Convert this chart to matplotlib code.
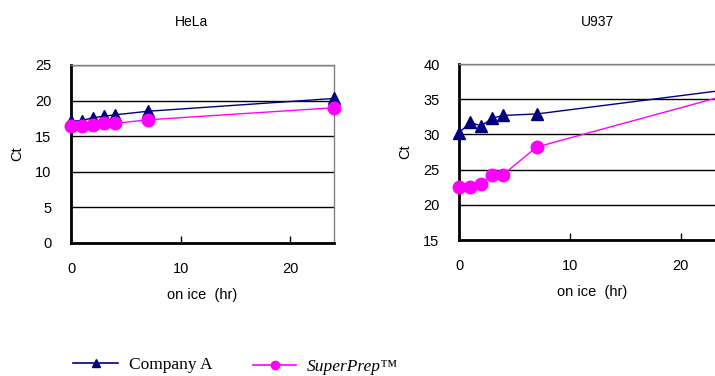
import matplotlib.pyplot as plt
from matplotlib.lines import Line2D

hours = [0, 1, 2, 3, 4, 7, 24]
hela_a = [17.1, 17.2, 17.6, 17.8, 18.0, 18.5, 20.3]
hela_sp = [16.4, 16.4, 16.6, 16.9, 16.8, 17.3, 19.0]
u937_a = [30.2, 31.7, 31.2, 32.3, 32.7, 32.9, 36.3]
u937_sp = [22.5, 22.5, 23.0, 24.2, 24.3, 28.2, 35.5]

navy = '#000080'
mag = '#FF00FF'

plt.rcParams['font.family'] = ['Liberation Sans', 'DejaVu Sans']

fig = plt.figure(figsize=(7.15, 3.76), dpi=100)
W, H = 715, 376


def make_ax(left, top, right, bottom):
    return fig.add_axes([left / W, 1 - bottom / H, (right - left) / W, (bottom - top) / H])


def style(ax, ylim, yticks, title, tx):
    ax.set_xlim(0, 24)
    ax.set_ylim(*ylim)
    ax.set_yticks(yticks)
    ax.set_xticks([0, 10, 20])
    ax.yaxis.grid(True, color='black', linewidth=1)
    ax.set_axisbelow(True)
    for s in ['top', 'right']:
        ax.spines[s].set_color('#808080')
        ax.spines[s].set_linewidth(1)
    for s in ['left', 'bottom']:
        ax.spines[s].set_color('black')
        ax.spines[s].set_linewidth(2)
    ax.tick_params(axis='y', length=0, pad=14, labelsize=10.5)
    ax.tick_params(axis='x', direction='in', length=5, width=1, pad=14, labelsize=10.5)
    ax.set_ylabel('Ct', fontsize=10.5, labelpad=8)
    ax.set_xlabel('on ice  (hr)', fontsize=10.5, labelpad=8)
    fig.text(tx / W, 1 - 22 / H, title, fontsize=10, ha='center', va='center')


ax1 = make_ax(71, 65, 334, 243)
ax1.plot(hours, hela_a, color=navy, marker='^', markersize=8, linewidth=1, clip_on=False, zorder=3)
ax1.plot(hours, hela_sp, color=mag, marker='o', markersize=9, linewidth=1, clip_on=False, zorder=4)
style(ax1, (0, 25), range(0, 26, 5), 'HeLa', 192)

ax2 = make_ax(459, 64, 725, 240)
ax2.plot(hours, u937_a, color=navy, marker='^', markersize=8, linewidth=1, clip_on=False, zorder=3)
ax2.plot(hours, u937_sp, color=mag, marker='o', markersize=9, linewidth=1, clip_on=False, zorder=4)
style(ax2, (15, 40), range(15, 41, 5), 'U937', 597)

h1 = Line2D([], [], color=navy, marker='^', markersize=5.5, linewidth=1.2)
h2 = Line2D([], [], color=mag, marker='o', markersize=6, linewidth=1.2)
fig.legend([h1], ['Company A'], loc='center left', bbox_to_anchor=(73 / W, 1 - 365 / H),
           frameon=False, handlelength=2.6, handletextpad=0.6, borderpad=0, borderaxespad=0,
           prop={'family': 'Liberation Serif', 'size': 12.5})
fig.legend([h2], ['SuperPrep™'], loc='center left', bbox_to_anchor=(253 / W, 1 - 367 / H),
           frameon=False, handlelength=2.5, handletextpad=0.6, borderpad=0, borderaxespad=0,
           prop={'family': 'Liberation Serif', 'size': 12.5, 'style': 'italic'})

fig.savefig('out.png', dpi=100)
